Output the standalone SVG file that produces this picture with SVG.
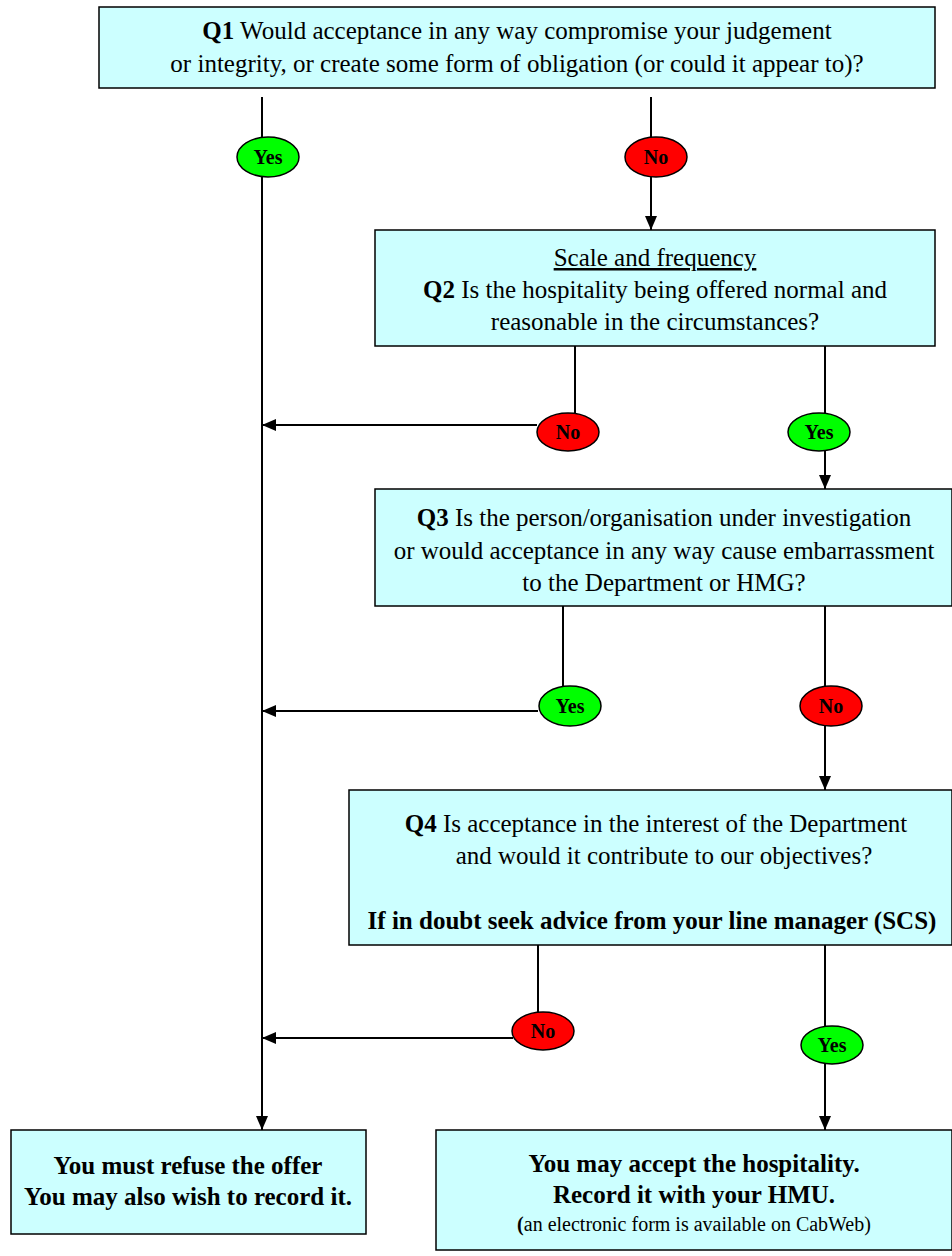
<svg xmlns="http://www.w3.org/2000/svg" width="952" height="1256" viewBox="0 0 952 1256">
<style>
  .box{fill:#CCFFFF;stroke:#000;stroke-width:1.5}
  .t{font-family:"Liberation Serif","Times New Roman",serif;font-size:25px;fill:#000;text-anchor:middle}
  .b{font-weight:bold}
  .sm{font-size:20px}
  .yes{fill:#00FF00;stroke:#000;stroke-width:1.5}
  .no{fill:#FF0000;stroke:#000;stroke-width:1.5}
  .lbl{font-family:"Liberation Serif","Times New Roman",serif;font-size:20px;font-weight:bold;fill:#000;text-anchor:middle}
  .ln{stroke:#000;stroke-width:2;fill:none}
</style>
<defs>
  <marker id="ah" viewBox="0 0 14 12" refX="14" refY="6" markerWidth="14" markerHeight="12" markerUnits="userSpaceOnUse" orient="auto">
    <path d="M0,0 L14,6 L0,12 z" fill="#000"/>
  </marker>
</defs>
<rect width="952" height="1256" fill="#fff"/>

<g id="connectors">
  <line class="ln" x1="262" y1="97" x2="262" y2="1130" marker-end="url(#ah)"/>
  <line class="ln" x1="651" y1="97" x2="651" y2="230" marker-end="url(#ah)"/>
  <line class="ln" x1="575" y1="346" x2="575" y2="414"/>
  <line class="ln" x1="537" y1="425" x2="262" y2="425" marker-end="url(#ah)"/>
  <line class="ln" x1="825" y1="346" x2="825" y2="489" marker-end="url(#ah)"/>
  <line class="ln" x1="563" y1="606" x2="563" y2="688"/>
  <line class="ln" x1="538" y1="711" x2="262" y2="711" marker-end="url(#ah)"/>
  <line class="ln" x1="825" y1="606" x2="825" y2="790" marker-end="url(#ah)"/>
  <line class="ln" x1="538" y1="945" x2="538" y2="1013"/>
  <line class="ln" x1="513" y1="1038" x2="262" y2="1038" marker-end="url(#ah)"/>
  <line class="ln" x1="825" y1="945" x2="825" y2="1130" marker-end="url(#ah)"/>
</g>

<g id="q1">
  <rect class="box" x="99" y="7" width="836" height="81"/>
  <text class="t" x="517" y="39"><tspan class="b">Q1</tspan> Would acceptance in any way compromise your judgement</text>
  <text class="t" x="517" y="72">or integrity, or create some form of obligation (or could it appear to)?</text>
</g>

<g id="q1-yes">
  <ellipse class="yes" cx="268" cy="157" rx="31" ry="20"/>
  <text class="lbl" x="268" y="164">Yes</text>
</g>
<g id="q1-no">
  <ellipse class="no" cx="656" cy="157" rx="31" ry="20"/>
  <text class="lbl" x="656" y="164">No</text>
</g>

<g id="q2">
  <rect class="box" x="375" y="230" width="560" height="116"/>
  <text class="t" x="655" y="266" text-decoration="underline">Scale and frequency</text>
  <text class="t" x="655" y="298"><tspan class="b">Q2</tspan> Is the hospitality being offered normal and</text>
  <text class="t" x="655" y="330">reasonable in the circumstances?</text>
</g>

<g id="q2-no">
  <ellipse class="no" cx="568" cy="432" rx="31" ry="19"/>
  <text class="lbl" x="568" y="439">No</text>
</g>
<g id="q2-yes">
  <ellipse class="yes" cx="819" cy="432" rx="31" ry="19"/>
  <text class="lbl" x="819" y="439">Yes</text>
</g>

<g id="q3">
  <rect class="box" x="375" y="489" width="577" height="117"/>
  <text class="t" x="664" y="526"><tspan class="b">Q3</tspan> Is the person/organisation under investigation</text>
  <text class="t" x="664" y="559">or would acceptance in any way cause embarrassment</text>
  <text class="t" x="664" y="591">to the Department or HMG?</text>
</g>

<g id="q3-yes">
  <ellipse class="yes" cx="570" cy="706" rx="31" ry="20"/>
  <text class="lbl" x="570" y="713">Yes</text>
</g>
<g id="q3-no">
  <ellipse class="no" cx="831" cy="706" rx="31" ry="20"/>
  <text class="lbl" x="831" y="713">No</text>
</g>

<g id="q4">
  <rect class="box" x="349" y="790" width="603" height="155"/>
  <text class="t" x="656" y="832"><tspan class="b">Q4</tspan>  Is acceptance in the interest of the Department</text>
  <text class="t" x="664" y="864">and would it contribute to our objectives?</text>
  <text class="t b" x="652" y="929">If in doubt seek advice from your line manager (SCS)</text>
</g>

<g id="q4-no">
  <ellipse class="no" cx="543" cy="1031" rx="31" ry="19"/>
  <text class="lbl" x="543" y="1038">No</text>
</g>
<g id="q4-yes">
  <ellipse class="yes" cx="832" cy="1045" rx="31" ry="19"/>
  <text class="lbl" x="832" y="1052">Yes</text>
</g>

<g id="refuse">
  <rect class="box" x="11" y="1130" width="355" height="104"/>
  <text class="t b" x="188" y="1174">You must refuse the offer</text>
  <text class="t b" x="188" y="1205">You may also wish to record it.</text>
</g>

<g id="accept">
  <rect class="box" x="436" y="1130" width="516" height="120"/>
  <text class="t b" x="694" y="1172">You may accept the hospitality.</text>
  <text class="t b" x="694" y="1203">Record it with your HMU.</text>
  <text class="t sm" x="694" y="1231"><tspan class="b">(</tspan>an electronic form is available on CabWeb)</text>
</g>
</svg>
